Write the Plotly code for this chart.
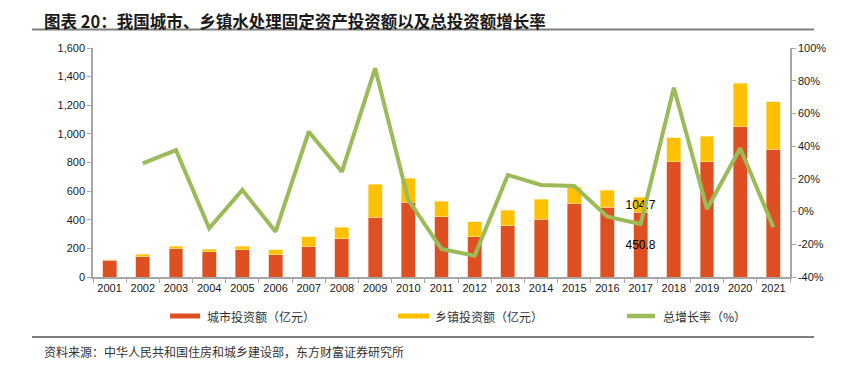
import plotly.graph_objects as go

years = [str(y) for y in range(2001, 2022)]
city = [117, 140, 197, 175, 190, 154, 210, 266, 419, 522, 422, 282, 357, 403, 513, 489, 450.8, 804, 804, 1050, 894]
town = [5, 18, 17, 18, 26, 35, 72, 81, 229, 168, 107, 105, 111, 142, 114, 117, 104.7, 170, 180, 304, 329]
growth = [None, 29.5, 37.6, -10.2, 13.2, -12.3, 48.8, 24.4, 87.6, 7.1, -22.9, -27.0, 22.4, 16.3, 15.6, -3.1, -7.6, 75.7, 1.6, 38.7, -9.6]
label_year = "2017"

left_ticks = [0, 200, 400, 600, 800, 1000, 1200, 1400, 1600]
right_ticks = [-40, -20, 0, 20, 40, 60, 80, 100]

RED = "#DE5021"
YEL = "#FFC000"
GRN = "#9BBB59"
AX = "#A6A6A6"

W, H = 846, 373
OFF = 8  # page body margin
# plot area in screen pixels
SL, SR, ST, SB = 93, 790, 48, 277
L, R, T, B = SL - OFF, SR - OFF, ST - OFF, SB - OFF


def px(x):
    return (x - SL) / (SR - SL)


def py(y):
    return (SB - y) / (SB - ST)


city_text = [f"{v:.1f}" if yr == label_year else "" for yr, v in zip(years, city)]
town_text = [f"{v:.1f}" if yr == label_year else "" for yr, v in zip(years, town)]

fig = go.Figure()
fig.add_trace(go.Bar(
    x=years, y=city, name="城市投资额（亿元）", marker=dict(color=RED, line=dict(color="#F3B9A0", width=0.6)),
    text=city_text, textposition="inside", insidetextanchor="middle", constraintext="none", textangle=0,
    textfont=dict(color="black", size=12, family="Liberation Sans, Arial"), cliponaxis=False,
    showlegend=False,
))
fig.add_trace(go.Bar(
    x=years, y=town, name="乡镇投资额（亿元）", marker=dict(color=YEL, line=dict(color="#FFE9A0", width=0.6)),
    text=town_text, textposition="inside", insidetextanchor="middle", constraintext="none", textangle=0,
    textfont=dict(color="black", size=12, family="Liberation Sans, Arial"), cliponaxis=False,
    showlegend=False,
))
fig.add_trace(go.Scatter(
    x=years, y=growth, name="总增长率（%）", yaxis="y2", mode="lines",
    line=dict(color=GRN, width=4), showlegend=False, connectgaps=False,
))

shapes = []
annotations = []
# title
annotations.append(dict(
    xref="paper", yref="paper", x=px(43), y=py(OFF), xanchor="left", yanchor="top", borderpad=0,
    text="<b>图表 20：我国城市、乡镇水处理固定资产投资额以及总投资额增长率</b>", showarrow=False,
    font=dict(family="Noto Sans CJK SC", size=16.5, color="#1a1a1a"),
))
for yline in (29.5, 337):
    shapes.append(dict(type="line", xref="paper", yref="paper", x0=px(32), x1=px(814), y0=py(yline), y1=py(yline),
                       line=dict(color="#7F7F7F", width=2)))
# legend
leg = [
    (170, 200, RED, "rect", 205, "城市投资额（亿元）"),
    (398, 429, YEL, "rect", 433, "乡镇投资额（亿元）"),
    (625, 657, GRN, "line", 661, "总增长率（%）"),
]
for x0, x1, col, kind, tx, label in leg:
    if kind == "rect":
        shapes.append(dict(type="rect", xref="paper", yref="paper", x0=px(x0), x1=px(x1), y0=py(318.5), y1=py(313.5),
                           fillcolor=col, line=dict(width=0)))
    else:
        shapes.append(dict(type="line", xref="paper", yref="paper", x0=px(x0 + 2), x1=px(x1 - 2), y0=py(316), y1=py(316),
                           line=dict(color=col, width=4.5)))
    annotations.append(dict(xref="paper", yref="paper", x=px(tx), y=py(316), xanchor="left", yanchor="middle",
                            text=label, showarrow=False, font=dict(family="Noto Sans CJK SC", size=12, color="#333333")))
# source
annotations.append(dict(
    xref="paper", yref="paper", x=px(42), y=py(351), xanchor="left", yanchor="middle",
    text="资料来源：中华人民共和国住房和城乡建设部，东方财富证券研究所", showarrow=False,
    font=dict(family="Noto Sans CJK SC", size=12, color="#333333"),
))

fig.update_layout(
    width=W, height=H,
    margin=dict(l=L, r=W - R, t=T, b=H - B, pad=0, autoexpand=False),
    paper_bgcolor="white", plot_bgcolor="white",
    barmode="stack", bargap=0.58,
    font=dict(family="Liberation Sans, Arial", size=11, color="#1a1a1a"),
    xaxis=dict(
        type="category", showline=True, linecolor=AX, linewidth=1.5, ticks="outside", tickson="boundaries",
        ticklen=4, tickcolor=AX, tickfont=dict(size=11), showgrid=False, zeroline=False, tickangle=0,
        automargin=False,
    ),
    yaxis=dict(
        range=[0, 1600], tickvals=left_ticks, tickformat=",", showline=True, linecolor=AX, linewidth=1.5,
        ticks="outside", ticklen=4, tickcolor=AX, showgrid=False, zeroline=False, tickfont=dict(size=11),
        automargin=False,
    ),
    yaxis2=dict(
        range=[-40, 100], tickvals=right_ticks, ticktext=[f"{v}%" for v in right_ticks], overlaying="y", side="right",
        showline=True, linecolor=AX, linewidth=1.5, ticks="outside", ticklen=4, tickcolor=AX,
        showgrid=False, zeroline=False, tickfont=dict(size=11), automargin=False,
    ),
    shapes=shapes, annotations=annotations,
)

fig.write_html("out.html")
